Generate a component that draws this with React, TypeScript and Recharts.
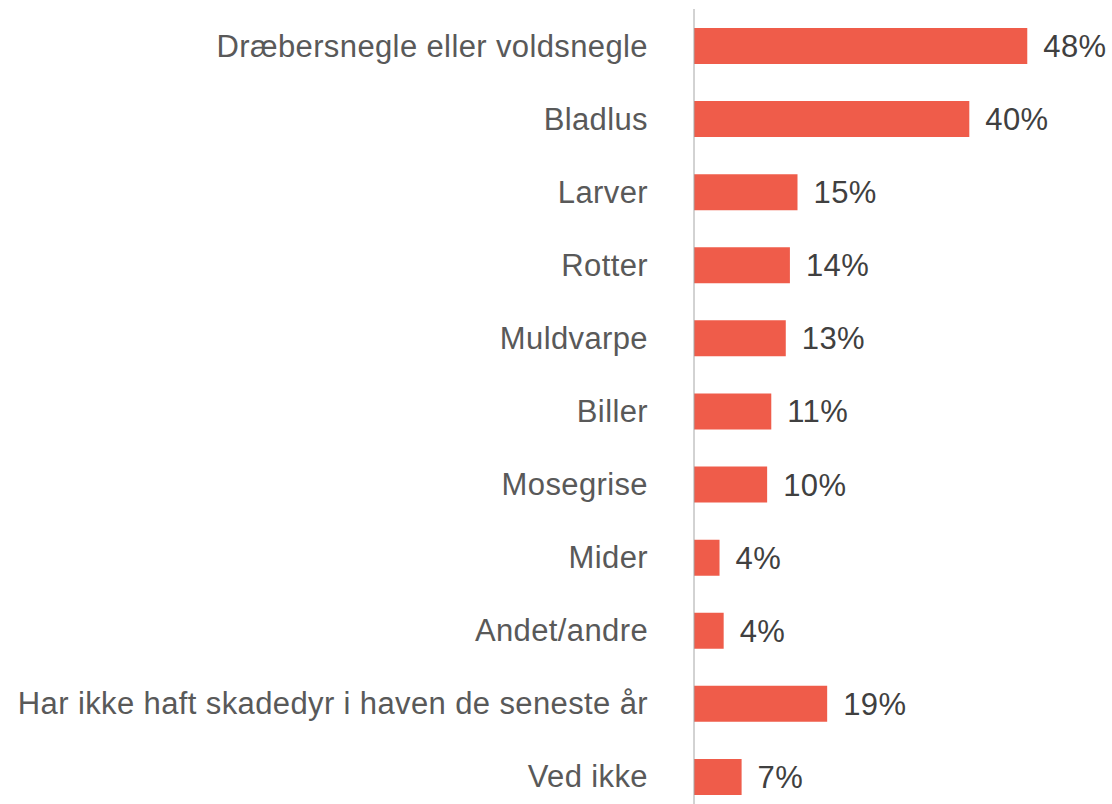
import React from 'react';
import { BarChart, Bar, XAxis, YAxis, LabelList } from 'recharts';

const categories = [
  'Dræbersnegle eller voldsnegle',
  'Bladlus',
  'Larver',
  'Rotter',
  'Muldvarpe',
  'Biller',
  'Mosegrise',
  'Mider',
  'Andet/andre',
  'Har ikke haft skadedyr i haven de seneste år',
  'Ved ikke',
];
const values = [48.3, 39.9, 15.0, 13.9, 13.3, 11.2, 10.6, 3.7, 4.3, 19.3, 6.9];
const valueLabels = ['48%', '40%', '15%', '14%', '13%', '11%', '10%', '4%', '4%', '19%', '7%'];

const data = categories.map((name, i) => ({ name, value: values[i], label: valueLabels[i] }));

const FONT = '"Liberation Sans", Arial, sans-serif';

export default function App() {
  return (
    <div style={{ position: 'absolute', left: 0, top: 0, width: 1112, height: 804, overflow: 'hidden', background: '#fff' }}>
      <BarChart
        width={1112}
        height={822}
        data={data}
        layout="vertical"
        margin={{ top: 9, right: 73, bottom: 9, left: 0 }}
      >
        <XAxis type="number" domain={[0, 50]} hide />
        <YAxis
          type="category"
          dataKey="name"
          width={694}
          tickLine={false}
          tickSize={0}
          tickMargin={46}
          axisLine={{ stroke: '#a6a6a6', strokeWidth: 1 }}
          interval={0}
          tick={{ fill: '#595959', fontSize: 31, fontFamily: FONT, letterSpacing: 0.38 }}
        />
        <Bar dataKey="value" fill="#EF5C4A" barSize={36} isAnimationActive={false}>
          <LabelList
            dataKey="label"
            position="right"
            offset={16}
            fill="#404040"
            fontSize={31}
            fontFamily={FONT}
            letterSpacing={0.4}
          />
        </Bar>
      </BarChart>
    </div>
  );
}
